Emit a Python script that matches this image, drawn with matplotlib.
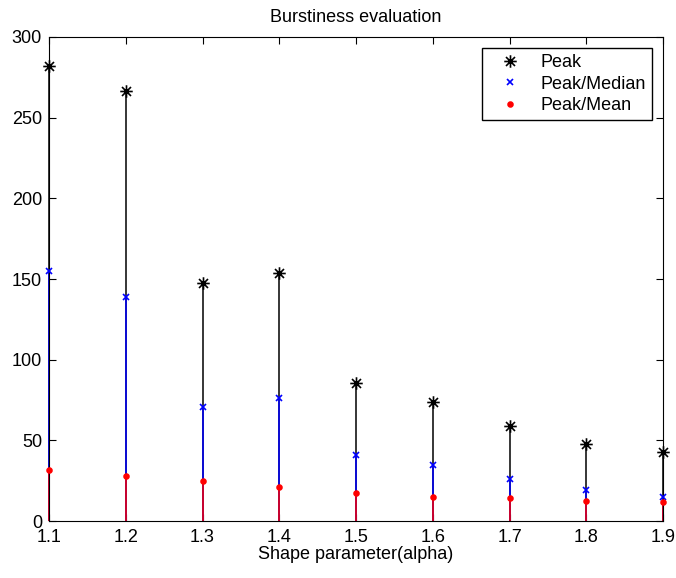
import matplotlib.pyplot as plt
from matplotlib.path import Path
import numpy as np

# shape parameter values and the burstiness measures for each
alpha = [1.1, 1.2, 1.3, 1.4, 1.5, 1.6, 1.7, 1.8, 1.9]
peak = [282, 266.5, 147.5, 153.5, 85.5, 73.5, 59, 48, 42.5]
peak_median = [155, 139, 70.5, 76, 41, 34.5, 26, 19, 15]
peak_mean = [31.5, 28, 24.5, 21, 17.5, 15, 14, 12.5, 12]

plt.rcParams["font.family"] = ["Liberation Sans", "DejaVu Sans"]

# eight-armed asterisk marker (a "+" laid over an "x")
d = 0.72
asterisk = Path(
    [(-1, 0), (1, 0), (0, -1), (0, 1), (-d, -d), (d, d), (-d, d), (d, -d)],
    [Path.MOVETO, Path.LINETO] * 4,
)

fig = plt.figure(figsize=(6.76, 5.78), dpi=100)
ax = fig.add_axes([0.0725, 0.0986, 0.9085, 0.8374])


def stem_series(values, color, marker, size, label):
    ax.vlines(alpha, 0, values, colors=color, linewidth=1.1, clip_on=False)
    ax.plot(alpha, values, linestyle="none", marker=marker, color=color,
            markersize=size, markeredgewidth=1.2, label=label, clip_on=False,
            zorder=3)


stem_series(peak, "black", asterisk, 9, "Peak")
stem_series(peak_median, "blue", "x", 5, "Peak/Median")
stem_series(peak_mean, "red", ".", 7, "Peak/Mean")

ax.set_xlim(1.1, 1.9)
ax.set_ylim(0, 300)
ax.set_xticks(alpha)
ax.set_xticklabels([f"{a:.1f}" for a in alpha])
ax.set_yticks(np.arange(0, 301, 50))
ax.tick_params(direction="in", top=True, right=True, length=5, labelsize=13)
ax.tick_params(axis="x", pad=6)
ax.tick_params(axis="y", pad=5)

ax.set_title("Burstiness evaluation", fontsize=13, pad=11)
ax.set_xlabel("Shape parameter(alpha)", fontsize=13, labelpad=0)

leg = ax.legend(loc="upper right", fontsize=13, fancybox=False,
                edgecolor="black", framealpha=1, handlelength=2.4,
                borderpad=0.35, labelspacing=0.25, handletextpad=0.5,
                borderaxespad=0.6)
leg.get_frame().set_linewidth(1.0)

fig.savefig("out.png", dpi=100, facecolor="white")
